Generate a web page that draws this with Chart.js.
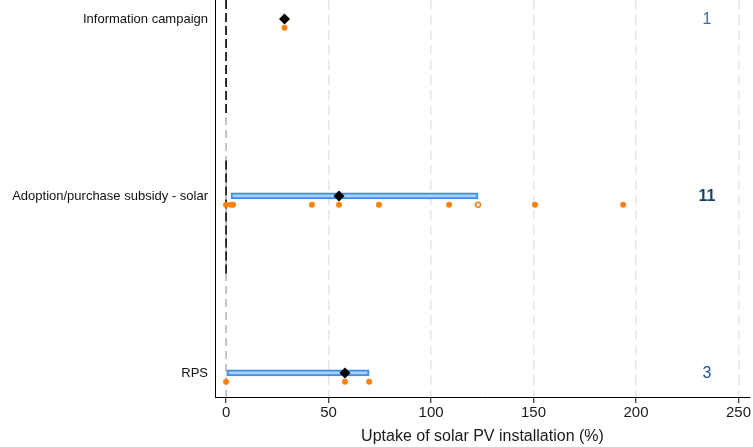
<!DOCTYPE html>
<html>
<head>
<meta charset="utf-8">
<script src="https://cdn.jsdelivr.net/npm/chart.js@4.4.1/dist/chart.umd.min.js"></script>
<style>
  html, body { margin: 0; padding: 0; background: #ffffff; }
  #wrap { width: 753px; height: 447px; }
</style>
</head>
<body>
<div id="wrap"><canvas id="c" width="753" height="447"></canvas></div>
<script>
// Policy instruments and their estimated effects on solar PV uptake (%)
const categories = ['Information campaign', 'Adoption/purchase subsidy - solar', 'RPS'];
const meanEffect = [28.5, 55.1, 58.0];
const rangeLow = [null, 2.4, 0];
const rangeHigh = [null, 122.9, 69.8];
const studyEffects = [
  [28.5],
  [0, 2.4, 3.4, 41.9, 55.1, 74.6, 108.8, 150.7, 193.7],
  [0, 58.0, 69.8]
];
const hollowEffects = [[], [122.9], []];
const studyCounts = [1, 11, 3];
const xTicks = [0, 50, 100, 150, 200, 250];

const ROW_OFFSET = 0.05;   // study dots sit just below each row
const Y_MIN = 0.893, Y_MAX = 3.136;
const X_MIN = -5.4, X_MAX = 255.6;

const meanPts = meanEffect.map((v, i) => ({ x: v, y: i + 1 }));
const studyPts = [];
studyEffects.forEach((arr, i) => arr.forEach(v => studyPts.push({ x: v, y: i + 1 + ROW_OFFSET })));
const hollowPts = [];
hollowEffects.forEach((arr, i) => arr.forEach(v => hollowPts.push({ x: v, y: i + 1 + ROW_OFFSET })));
const rangeBars = [];
rangeLow.forEach((lo, i) => {
  if (lo !== null && rangeHigh[i] !== null) rangeBars.push({ x: [lo, rangeHigh[i]], y: i + 1 });
});

// study counts written at the right of each row
const countLabels = {
  id: 'countLabels',
  afterDatasetsDraw(chart) {
    const { ctx, scales } = chart;
    const xp = scales.x.getPixelForValue(234.6);
    ctx.save();
    ctx.textAlign = 'center';
    ctx.textBaseline = 'middle';
    studyCounts.forEach((n, i) => {
      const yp = scales.y.getPixelForValue(i + 1);
      let color = '#3f6d9b', weight = 'normal';
      if (n >= 10) { color = '#17416d'; weight = 'bold'; }
      else if (n >= 3) { color = '#24548a'; }
      ctx.fillStyle = color;
      ctx.font = weight + ' 16px "Liberation Sans", Arial, sans-serif';
      ctx.fillText(String(n), xp, yp + 1);
    });
    ctx.restore();
  }
};

Chart.defaults.font.family = '"Liberation Sans", Arial, sans-serif';
Chart.defaults.color = '#1a1a1a';

new Chart(document.getElementById('c'), {
  type: 'scatter',
  data: {
    datasets: [
      {
        type: 'line',
        data: [{ x: 0, y: Y_MIN }, { x: 0, y: Y_MAX }],
        borderColor: '#8c8c8c',
        borderWidth: 1,
        borderDash: [8, 5],
        pointRadius: 0,
        order: 6
      },
      {
        type: 'line',
        data: [{ x: 0, y: Y_MIN }, { x: 0, y: 1.55 }],
        borderColor: '#1e1e1e',
        borderWidth: 1.8,
        borderDash: [9, 4],
        pointRadius: 0,
        order: 5
      },
      {
        type: 'line',
        data: [{ x: 0, y: 1.8 }, { x: 0, y: 2.45 }],
        borderColor: '#1e1e1e',
        borderWidth: 1.8,
        borderDash: [9, 4],
        pointRadius: 0,
        order: 5
      },
      {
        type: 'bar',
        indexAxis: 'y',
        data: rangeBars,
        barThickness: 6,
        backgroundColor: '#a7d1f8',
        borderColor: '#3a8de8',
        borderWidth: 2,
        borderSkipped: false,
        order: 4
      },
      {
        data: studyPts,
        pointStyle: 'circle',
        pointRadius: 3,
        backgroundColor: '#ff820f',
        borderColor: '#ff820f',
        borderWidth: 0,
        order: 3
      },
      {
        data: hollowPts,
        pointStyle: 'circle',
        pointRadius: 2.5,
        backgroundColor: '#ffffff',
        borderColor: '#ff820f',
        borderWidth: 1.5,
        order: 3
      },
      {
        data: meanPts,
        pointStyle: 'rectRot',
        pointRadius: 5.5,
        backgroundColor: '#000000',
        borderColor: '#000000',
        borderWidth: 0,
        order: 1
      }
    ]
  },
  options: {
    responsive: false,
    animation: false,
    layout: { autoPadding: false, padding: { top: 0, right: 3, left: 0, bottom: 0 } },
    plugins: { legend: { display: false }, tooltip: { enabled: false } },
    scales: {
      x: {
        type: 'linear',
        offset: false,
        min: X_MIN,
        max: X_MAX,
        afterBuildTicks: axis => { axis.ticks = xTicks.map(v => ({ value: v })); },
        afterFit: axis => { axis.height = 50; axis.paddingLeft = 0; axis.paddingRight = 0; },
        grid: {
          offset: false,
          color: ctx => (ctx.tick && ctx.tick.value === 0 ? 'rgba(0,0,0,0)' : '#e6e6e6'),
          lineWidth: 1.5,
          tickColor: '#000000',
          tickLength: 6,
          tickWidth: 1,
          tickBorderDash: []
        },
        border: { display: true, color: '#000000', width: 1, dash: [10, 5] },
        ticks: { font: { size: 15 }, color: '#1a1a1a', padding: 1, maxRotation: 0 },
        title: {
          display: true,
          text: 'Uptake of solar PV installation (%)',
          font: { size: 16 },
          color: '#1a1a1a',
          padding: { top: 0, bottom: 1 }
        }
      },
      y: {
        type: 'linear',
        offset: false,
        reverse: true,
        min: Y_MIN,
        max: Y_MAX,
        afterBuildTicks: axis => { axis.ticks = categories.map((c, i) => ({ value: i + 1 })); },
        afterFit: axis => { axis.width = 215; axis.paddingTop = 0; axis.paddingBottom = 0; },
        grid: { display: false, drawTicks: false, offset: false },
        border: { display: true, color: '#000000', width: 1 },
        ticks: {
          font: { size: 13 },
          color: '#111111',
          padding: 7,
          autoSkip: false,
          callback: v => categories[Math.round(v) - 1] || ''
        }
      }
    }
  },
  plugins: [countLabels]
});
</script>
</body>
</html>
